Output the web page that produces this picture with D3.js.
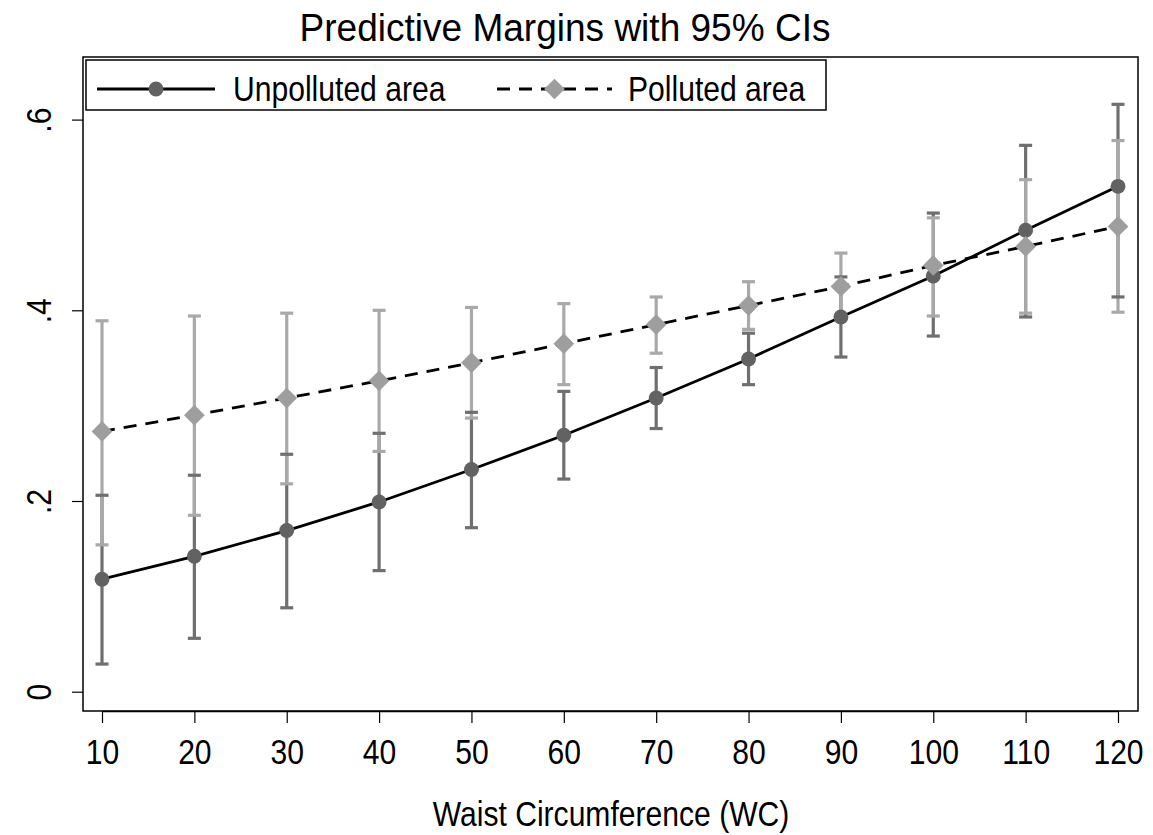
<!DOCTYPE html>
<html>
<head>
<meta charset="utf-8">
<script src="https://cdn.jsdelivr.net/npm/d3@7"></script>
<style>
  body { margin: 0; background: #fff; }
  text { font-family: "Liberation Sans", Arial, sans-serif; fill: #000; }
</style>
</head>
<body>
<div id="vis"></div>
<script>
const waist = [10, 20, 30, 40, 50, 60, 70, 80, 90, 100, 110, 120]
const unpollutedMargin = [0.118, 0.142, 0.169, 0.199, 0.233, 0.269, 0.308, 0.349, 0.393, 0.436, 0.484, 0.530]
const unpollutedLo = [0.029, 0.056, 0.088, 0.127, 0.172, 0.223, 0.276, 0.322, 0.351, 0.373, 0.393, 0.414]
const unpollutedHi = [0.206, 0.227, 0.249, 0.271, 0.293, 0.315, 0.340, 0.376, 0.435, 0.502, 0.573, 0.616]
const pollutedMargin = [0.273, 0.290, 0.308, 0.326, 0.345, 0.365, 0.385, 0.405, 0.425, 0.447, 0.467, 0.488]
const pollutedLo = [0.154, 0.185, 0.218, 0.252, 0.287, 0.322, 0.355, 0.380, 0.391, 0.394, 0.397, 0.398]
const pollutedHi = [0.389, 0.394, 0.397, 0.400, 0.403, 0.407, 0.414, 0.430, 0.460, 0.497, 0.537, 0.578]
const yTicks = [0, 0.2, 0.4, 0.6]
const yTickLabels = ["0", ".2", ".4", ".6"]
const seriesNames = ["Unpolluted area", "Polluted area"]

const W = 1153, H = 835
const box = {left: 83, top: 57, right: 1138, bottom: 711}
const narrow = 0.86   // Stata's font is a bit condensed

const series = [
    {name: seriesNames[0], mid: unpollutedMargin, lo: unpollutedLo, hi: unpollutedHi,
     marker: "#626262", ci: "#6f6f6f", dash: null, symbol: d3.symbolCircle, size: 175, rot: 0},
    {name: seriesNames[1], mid: pollutedMargin, lo: pollutedLo, hi: pollutedHi,
     marker: "#9e9e9e", ci: "#a9a9a9", dash: "13,9", symbol: d3.symbolSquare, size: 215, rot: 45}
].map(s => Object.assign(s, {
    pts: waist.map((w, i) => ({x: w, y: s.mid[i], lo: s.lo[i], hi: s.hi[i]}))
}))

const svg = d3.select('#vis')
    .append('svg')
    .attr('width', W)
    .attr('height', H)

const x = d3.scaleLinear().domain([10, 120]).range([102, 1118])
const y = d3.scaleLinear().domain([0, 0.6]).range([691.7, 119.6])

// plot region frame
svg.append("rect")
    .attr("x", box.left)
    .attr("y", box.top)
    .attr("width", box.right - box.left)
    .attr("height", box.bottom - box.top)
    .attr("fill", "none")
    .attr("stroke", "#000")
    .attr("stroke-width", 1.5)

// x axis
const xAxis = svg.append("g")
    .attr("transform", `translate(0,${box.bottom})`)
    .call(d3.axisBottom(x).tickValues(waist).tickSize(12).tickSizeOuter(0))
xAxis.select(".domain").attr("stroke-width", 1.5)
xAxis.selectAll(".tick line").attr("stroke-width", 1.2)
xAxis.selectAll(".tick text")
    .attr("y", 53).attr("dy", null)
    .attr("transform", `scale(${narrow},1)`)
    .style("font-size", "35px")
    .attr("font-family", null)

// y axis
const yAxis = svg.append("g")
    .attr("transform", `translate(${box.left},0)`)
    .call(d3.axisLeft(y).tickValues(yTicks).tickFormat((d, i) => yTickLabels[i]).tickSize(11).tickSizeOuter(0))
yAxis.select(".domain").remove()
yAxis.selectAll(".tick line").attr("stroke-width", 1.2)
yAxis.selectAll(".tick text")
    .attr("x", null).attr("dy", null)
    .attr("text-anchor", "middle")
    .attr("transform", `translate(-32,0) rotate(-90) scale(${narrow},1)`)
    .style("font-size", "35px")
    .attr("font-family", null)

// confidence interval spikes, then caps
series.forEach(s => {
    svg.append("g").selectAll("line")
        .data(s.pts)
        .enter()
        .append("line")
        .attr("x1", d => x(d.x)).attr("x2", d => x(d.x))
        .attr("y1", d => y(d.lo)).attr("y2", d => y(d.hi))
        .attr("stroke", s.ci)
        .attr("stroke-width", 3.2)
})
series.forEach(s => {
    const caps = svg.append("g")
    ;["lo", "hi"].forEach(k => {
        caps.selectAll("line." + k)
            .data(s.pts)
            .enter()
            .append("line")
            .attr("class", k)
            .attr("x1", d => x(d.x) - 6.5).attr("x2", d => x(d.x) + 6.5)
            .attr("y1", d => y(d[k])).attr("y2", d => y(d[k]))
            .attr("stroke", s.ci)
            .attr("stroke-width", 3.2)
    })
})

// lines + markers
const line = d3.line().x(d => x(d.x)).y(d => y(d.y))
series.forEach(s => {
    svg.append("path")
        .datum(s.pts)
        .attr("d", line)
        .attr("fill", "none")
        .attr("stroke", "#000")
        .attr("stroke-width", 2.8)
        .attr("stroke-dasharray", s.dash)
    svg.append("g").selectAll("path")
        .data(s.pts)
        .enter()
        .append("path")
        .attr("d", d3.symbol().type(s.symbol).size(s.size))
        .attr("transform", d => `translate(${x(d.x)},${y(d.y)}) rotate(${s.rot})`)
        .attr("fill", s.marker)
})

// legend
const legend = svg.append("g")
legend.append("rect")
    .attr("x", 86).attr("y", 60)
    .attr("width", 740).attr("height", 50)
    .attr("fill", "#fff")
    .attr("stroke", "#000")
    .attr("stroke-width", 1.5)
const legendItems = [
    {x1: 97, x2: 215, tx: 233},
    {x1: 497, x2: 612, tx: 628}
]
series.forEach((s, i) => {
    const it = legendItems[i]
    legend.append("line")
        .attr("x1", it.x1).attr("x2", it.x2)
        .attr("y1", 89).attr("y2", 89)
        .attr("stroke", "#000")
        .attr("stroke-width", 2.8)
        .attr("stroke-dasharray", s.dash)
    legend.append("path")
        .attr("d", d3.symbol().type(s.symbol).size(s.size))
        .attr("transform", `translate(${(it.x1 + it.x2) / 2},89) rotate(${s.rot})`)
        .attr("fill", s.marker)
    legend.append("text")
        .attr("transform", `translate(${it.tx},101) scale(${narrow},1)`)
        .style("font-size", "35px")
        .text(s.name)
})

// titles
svg.append("text")
    .attr("transform", "translate(565,41) scale(0.95,1)")
    .attr("text-anchor", "middle")
    .style("font-size", "39px")
    .text("Predictive Margins with 95% CIs")

svg.append("text")
    .attr("transform", `translate(611,826) scale(${narrow},1)`)
    .attr("text-anchor", "middle")
    .style("font-size", "35px")
    .text("Waist Circumference (WC)")
</script>
</body>
</html>
